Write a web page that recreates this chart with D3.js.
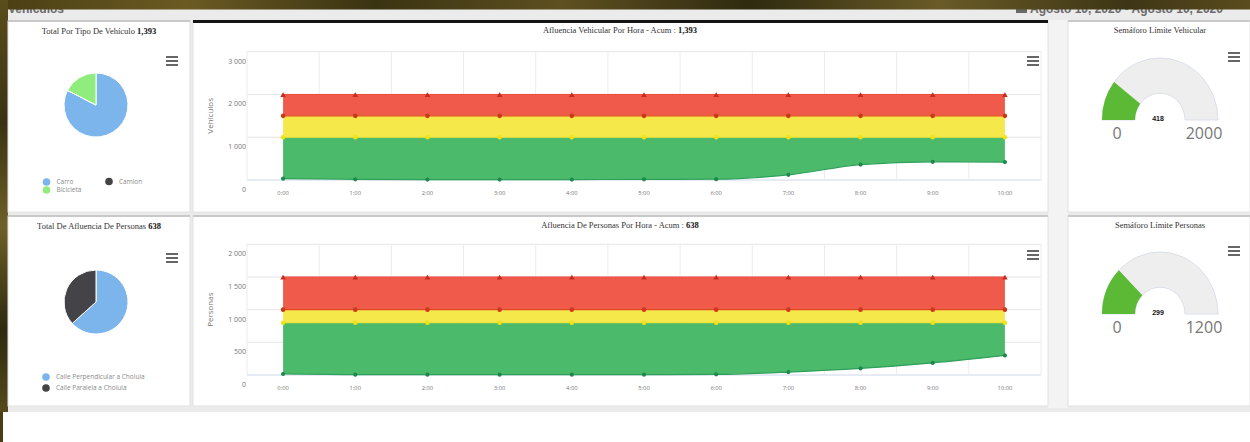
<!DOCTYPE html>
<html><head><meta charset="utf-8">
<script src="https://cdn.jsdelivr.net/npm/d3@7"></script>
<style>html,body{margin:0;padding:0;background:#fff;overflow:hidden}</style>
</head><body>
<svg id="c" width="1250" height="442"></svg>
<script>
// ---------------- DATA ----------------
const hours = ["0:00","1:00","2:00","3:00","4:00","5:00","6:00","7:00","8:00","9:00","10:00"];
const vehTicks = [0, 1000, 2000, 3000];
const perTicks = [0, 500, 1000, 1500, 2000];
const vehRed    = [2000,2000,2000,2000,2000,2000,2000,2000,2000,2000,2000];
const vehOrange = [1500,1500,1500,1500,1500,1500,1500,1500,1500,1500,1500];
const vehYellow = [1000,1000,1000,1000,1000,1000,1000,1000,1000,1000,1000];
const vehCount  = [30,15,10,10,10,15,20,120,360,425,418];
const perRed    = [1500,1500,1500,1500,1500,1500,1500,1500,1500,1500,1500];
const perOrange = [1000,1000,1000,1000,1000,1000,1000,1000,1000,1000,1000];
const perYellow = [800,800,800,800,800,800,800,800,800,800,800];
const perCount  = [15,5,5,5,5,5,10,45,100,185,299];
const vehTypes = ["Carro","Camion","Bicicleta"];
const vehTypeValues = [1150, 0, 243];
const streets = ["Calle Perpendicular a Cholula","Calle Paralela a Cholula"];
const streetValues = [404, 234];
const gaugeVehValue = 418, gaugeVehMax = 2000;
const gaugePerValue = 299, gaugePerMax = 1200;

// ---------------- DRAW ----------------
const svg = d3.select('#c');
const defs = svg.append('defs');
const bg = defs.append('linearGradient').attr('id','bg').attr('x1',0).attr('x2',1).attr('y1',0).attr('y2',0);
[['0%','#4a3f14'],['15%','#6b5a22'],['30%','#3a3312'],['45%','#5e5020'],['60%','#2f2a10'],['75%','#6a5b27'],['90%','#3d3515'],['100%','#5a4c1e']]
  .forEach(s=>bg.append('stop').attr('offset',s[0]).attr('stop-color',s[1]));
const bgv = defs.append('linearGradient').attr('id','bgv').attr('x1',0).attr('x2',0).attr('y1',0).attr('y2',1);
[['0%','#5a4d1c'],['30%','#3a3212'],['55%','#6e6028'],['80%','#2e2910'],['100%','#554a1c']]
  .forEach(s=>bgv.append('stop').attr('offset',s[0]).attr('stop-color',s[1]));

svg.append('rect').attr('width',1250).attr('height',442).attr('fill','#ffffff');
svg.append('rect').attr('x',0).attr('y',0).attr('width',1250).attr('height',412).attr('fill','#ebebeb');
svg.append('rect').attr('x',1048).attr('y',20).attr('width',20).attr('height',388).attr('fill','#f3f3f3');

// header texts (partially hidden by the background)
svg.append('text').attr('x',8).attr('y',13).attr('font-family','Liberation Sans, Arial').attr('font-weight','bold')
  .attr('font-size',12).attr('fill','#6a6a6a').text('Vehículos');
svg.append('text').attr('x',1030).attr('y',13).attr('font-family','Liberation Sans, Arial').attr('font-weight','bold')
  .attr('font-size',12).attr('fill','#6a6a6a').text('Agosto 10, 2020 - Agosto 10, 2020');
svg.append('rect').attr('x',1016).attr('y',5).attr('width',11).attr('height',8).attr('fill','#6a6a6a');

svg.append('rect').attr('x',0).attr('y',0).attr('width',1250).attr('height',9.5).attr('fill','url(#bg)');
svg.append('rect').attr('x',0).attr('y',0).attr('width',8).attr('height',412).attr('fill','url(#bgv)');
svg.append('rect').attr('x',0).attr('y',412).attr('width',3).attr('height',30).attr('fill','#4a3f14');

// panels
const panels = [
  {x:8,y:21,w:182,h:191,top:'#c9c9c9'},
  {x:193,y:21,w:855,h:191,top:'#141414'},
  {x:1068,y:21,w:182,h:191,top:'#c9c9c9'},
  {x:8,y:216,w:182,h:190,top:'#c9c9c9'},
  {x:193,y:216,w:855,h:190,top:'#c9c9c9'},
  {x:1068,y:216,w:182,h:190,top:'#c9c9c9'}
];
panels.forEach(p=>{
  svg.append('rect').attr('x',p.x).attr('y',p.y).attr('width',p.w).attr('height',p.h)
    .attr('fill','#fff').attr('stroke','#e2e2e2').attr('stroke-width',1);
  svg.append('rect').attr('x',p.x).attr('y',p.y-1).attr('width',p.w).attr('height',p.top==='#141414'?3:2).attr('fill',p.top);
});

function menuIcon(cx, cy){
  [-4,0,4].forEach(d=>svg.append('rect').attr('x',cx-6).attr('y',cy+d-1).attr('width',12).attr('height',2).attr('fill','#666'));
}
function title(x, y, txt, bold){
  const t = svg.append('text').attr('x',x).attr('y',y).attr('text-anchor','middle')
    .attr('font-family','Liberation Serif, Times New Roman, serif').attr('font-size',8.5).attr('fill','#333')
    .attr('dominant-baseline','middle');
  t.append('tspan').text(txt);
  if (bold) t.append('tspan').attr('font-weight','bold').attr('fill','#111').text(bold);
}

// ---------- pies ----------
function pie(cx, cy, names, values, colors, legendPos){
  const arcs = d3.pie().sort(null).value(d=>d)(values);
  const arc = d3.arc().innerRadius(0).outerRadius(32);
  const g = svg.append('g').attr('transform',`translate(${cx},${cy})`);
  g.selectAll('path').data(arcs).enter().append('path').attr('d',arc)
    .attr('fill',(d,i)=>colors[i]).attr('stroke','#fff').attr('stroke-width',1);
  names.forEach((n,i)=>{
    const p = legendPos[i];
    svg.append('circle').attr('cx',p[0]).attr('cy',p[1]).attr('r',3.8).attr('fill',colors[i]);
    svg.append('text').attr('x',p[0]+10).attr('y',p[1]+0.5).attr('dominant-baseline','middle')
      .attr('font-family','Open Sans, sans-serif').attr('font-size',6.5).attr('fill','#8a8a8a').text(n);
  });
}
title(99, 32, 'Total Por Tipo De Vehículo ', '1,393');
menuIcon(172, 61);
pie(96, 105, vehTypes, vehTypeValues, ['#7cb5ec','#434348','#90ed7d'], [[46.5,182],[109,181.5],[46.5,190]]);

title(99, 227, 'Total De Afluencia De Personas ', '638');
menuIcon(172, 258);
pie(96, 302, streets, streetValues, ['#7cb5ec','#434348'], [[46,377],[46,388]]);

// ---------- area charts ----------
const fmt = d3.formatLocale({decimal:'.', thousands:' ', grouping:[3], currency:['','']}).format(',d');
function areaChart(o){
  const x = d3.scaleBand().domain(hours).range([247, 1041]);
  const y = d3.scaleLinear().domain([0, o.max]).range([o.bottom, o.top]);
  const cxp = h => x(h) + x.bandwidth()/2;
  const g = svg.append('g');
  o.ticks.forEach(t=>{
    g.append('line').attr('x1',247).attr('x2',1041).attr('y1',y(t)).attr('y2',y(t))
      .attr('stroke', t===0 ? '#ccd6eb' : '#e6e6e6').attr('stroke-width',1);
    g.append('text').attr('x',246).attr('y',y(t)+10).attr('text-anchor','end').attr('dominant-baseline','middle')
      .attr('font-family','Open Sans, sans-serif').attr('font-size',7).attr('fill','#777').text(fmt(t));
  });
  const bounds = hours.map(h=>x(h)).concat([x(hours[hours.length-1]) + x.bandwidth()]);
  bounds.forEach(b=>g.append('line').attr('x1',b).attr('x2',b).attr('y1',y(o.max)).attr('y2',y(0))
      .attr('stroke','#ececec').attr('stroke-width',1));
  const idx = d3.range(hours.length);
  const band = (lo, hi, col) => g.append('path').datum(idx)
    .attr('d', d3.area().curve(d3.curveMonotoneX).x(i=>cxp(hours[i])).y0(i=>y(lo[i])).y1(i=>y(hi[i])))
    .attr('fill', col);
  band(o.orange, o.red, '#f05a4a');
  band(o.yellow, o.orange, '#f5e84a');
  band(o.count, o.yellow, '#4cba6b');
  const line = (arr, col, w) => g.append('path').datum(idx)
    .attr('d', d3.line().curve(d3.curveMonotoneX).x(i=>cxp(hours[i])).y(i=>y(arr[i])))
    .attr('fill','none').attr('stroke',col).attr('stroke-width',w);
  line(o.red, '#ef4a3a', 1);
  line(o.orange, '#e04a22', 1.2);
  line(o.yellow, '#f3e432', 1);
  line(o.count, '#2f9f5a', 1.2);
  const tri = d3.symbol().type(d3.symbolTriangle).size(14);
  idx.forEach(i=>{
    const px = cxp(hours[i]);
    g.append('path').attr('d',tri()).attr('transform',`translate(${px},${y(o.red[i])+1})`).attr('fill','#c42d20');
    g.append('circle').attr('cx',px).attr('cy',y(o.orange[i])).attr('r',2.3).attr('fill','#c9391a');
    g.append('circle').attr('cx',px).attr('cy',y(o.yellow[i])).attr('r',2.3).attr('fill','#eee21a');
    g.append('circle').attr('cx',px).attr('cy',y(o.count[i])).attr('r',2.1).attr('fill','#1d8a4b');
    g.append('text').attr('x',px).attr('y',o.bottom+13).attr('text-anchor','middle').attr('dominant-baseline','middle')
      .attr('font-family','Open Sans, sans-serif').attr('font-size',5.8).attr('fill','#777').text(hours[i]);
  });
  g.append('text').attr('transform',`translate(211,${(o.top+o.bottom)/2}) rotate(-90)`).attr('text-anchor','middle')
    .attr('dominant-baseline','middle').attr('font-family','Open Sans, sans-serif').attr('font-size',8)
    .attr('fill','#777').text(o.ytitle);
}
title(620, 31, 'Afluencia Vehicular Por Hora - Acum : ', '1,393');
menuIcon(1033, 61);
areaChart({top:51.7, bottom:180, max:3000, ticks:vehTicks, red:vehRed, orange:vehOrange, yellow:vehYellow, count:vehCount, ytitle:'Vehículos'});

title(620, 226, 'Afluencia De Personas Por Hora - Acum : ', '638');
menuIcon(1033, 255);
areaChart({top:244.3, bottom:375, max:2000, ticks:perTicks, red:perRed, orange:perOrange, yellow:perYellow, count:perCount, ytitle:'Personas'});

// ---------- gauges ----------
function gauge(cx, cy, value, max){
  const a = d3.scaleLinear().domain([0, max]).range([-Math.PI/2, Math.PI/2]);
  const g = svg.append('g').attr('transform',`translate(${cx},${cy}) scale(1,1.07)`);
  const arc = d3.arc().innerRadius(25).outerRadius(58);
  g.append('path').attr('d', arc({startAngle:a(0), endAngle:a(max)})).attr('fill','#eeeeee').attr('stroke','#d5dbe8').attr('stroke-width',0.8);
  g.append('path').attr('d', arc({startAngle:a(0), endAngle:a(value)})).attr('fill','#5bb935');
  svg.append('text').attr('x',cx-2).attr('y',cy-1).attr('text-anchor','middle').attr('dominant-baseline','middle')
    .attr('font-family','Liberation Sans, Arial').attr('font-weight','bold').attr('font-size',7).attr('fill','#111').text(value);
  svg.append('text').attr('x',cx-43).attr('y',cy+15).attr('text-anchor','middle').attr('dominant-baseline','middle')
    .attr('font-family','Open Sans, sans-serif').attr('font-size',16).attr('fill','#777').text(0);
  svg.append('text').attr('x',cx+44).attr('y',cy+15).attr('text-anchor','middle').attr('dominant-baseline','middle')
    .attr('font-family','Open Sans, sans-serif').attr('font-size',16).attr('fill','#777').text(max);
}
title(1160, 31, 'Semáforo Límite Vehicular');
menuIcon(1234, 57);
gauge(1160, 120, gaugeVehValue, gaugeVehMax);

title(1160, 226, 'Semáforo Límite Personas');
menuIcon(1234, 251);
gauge(1160, 314, gaugePerValue, gaugePerMax);
</script>
</body></html>
